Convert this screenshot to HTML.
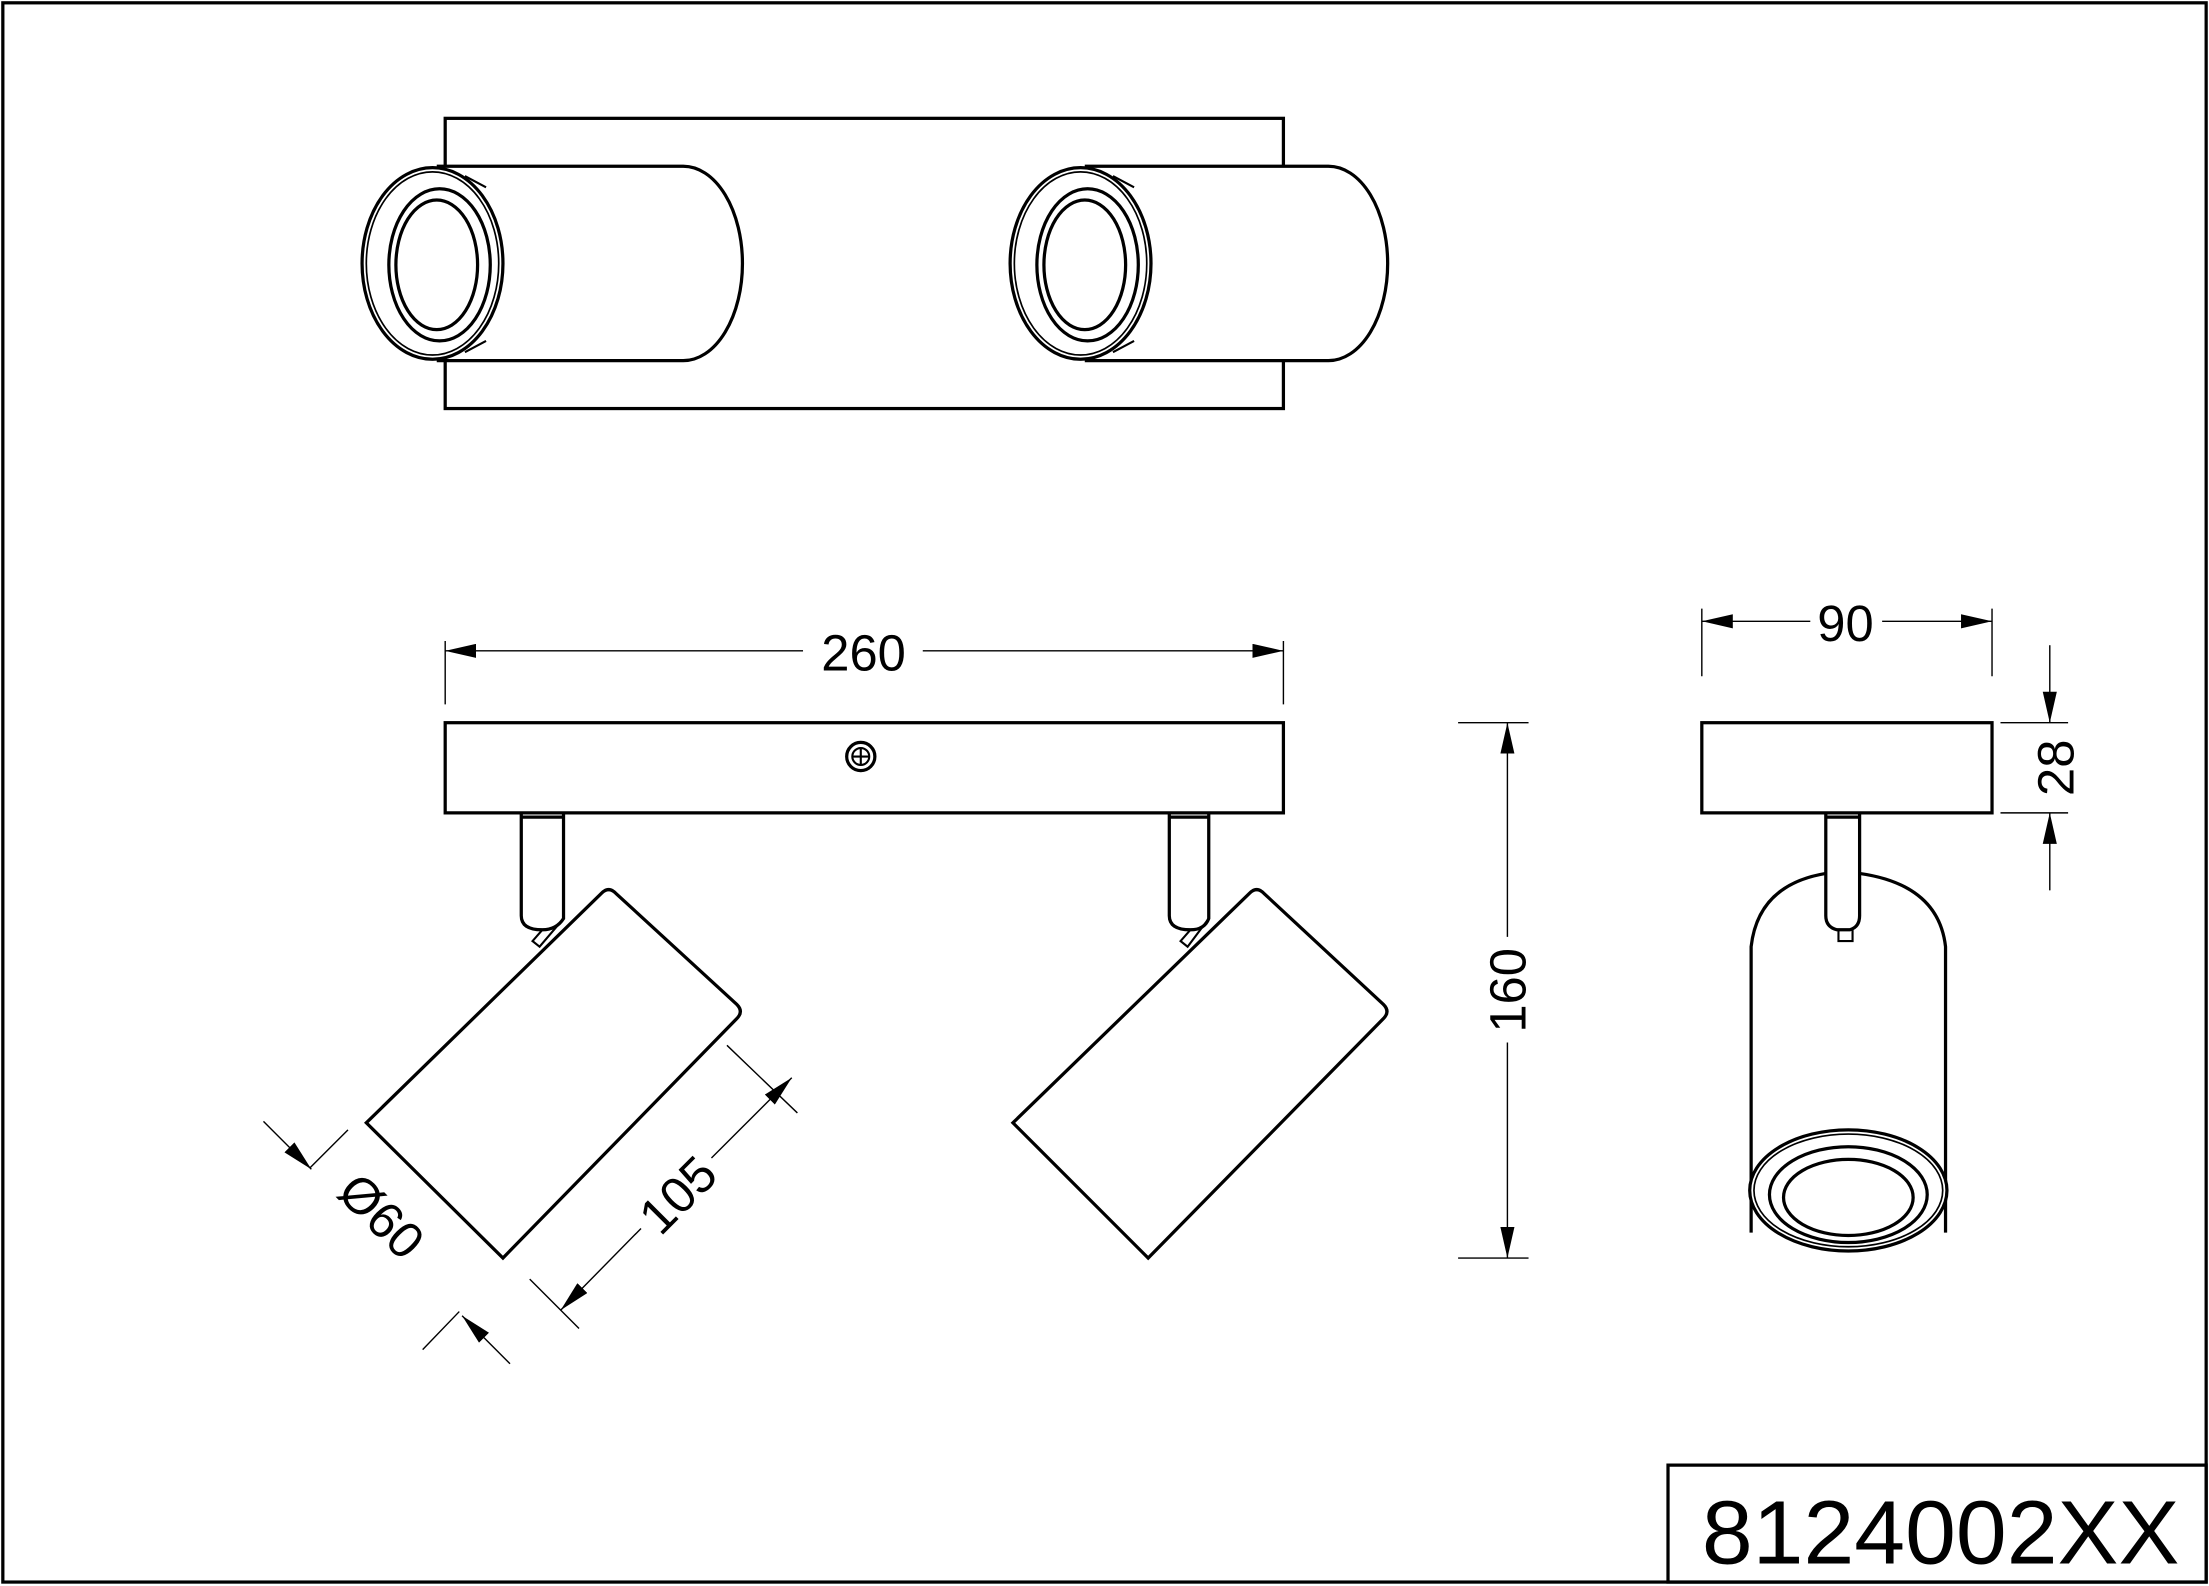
<!DOCTYPE html>
<html><head><meta charset="utf-8"><style>
html,body{margin:0;padding:0;background:#fff}
svg{display:block}
text{font-family:"Liberation Sans",Arial,sans-serif;fill:#000}
</style></head><body>
<svg width="2209" height="1586" viewBox="0 0 1568 1125.8" xmlns="http://www.w3.org/2000/svg">
<defs>
<marker id="a" viewBox="0 0 22 10" refX="22" refY="5" markerWidth="22" markerHeight="10" orient="auto" markerUnits="userSpaceOnUse">
<path d="M0,0 L22,5 L0,10 Z" fill="#000"/>
</marker>
</defs>
<g fill="none" stroke="#000" stroke-width="2.3">
<rect x="2" y="2" width="1564" height="1121"/>
<rect x="1184" y="1040" width="382" height="83"/>

<!-- top view -->
<rect x="316" y="84" width="595" height="206"/>
<path d="M310,118 H485 A42,69 0 0 1 485,256 H310" fill="#fff"/>
<ellipse cx="307" cy="187" rx="50" ry="68" fill="#fff"/>
<ellipse cx="307" cy="187" rx="47" ry="65" stroke-width="1.2"/>
<ellipse cx="312" cy="188" rx="36" ry="54"/>
<ellipse cx="310" cy="188" rx="29" ry="46"/>
<path d="M330,125 L345,133 M330,250 L345,242" stroke-width="1.5"/>

<path d="M770,118 H943 A42,69 0 0 1 943,256 H770" fill="#fff"/>
<ellipse cx="767" cy="187" rx="50" ry="68" fill="#fff"/>
<ellipse cx="767" cy="187" rx="47" ry="65" stroke-width="1.2"/>
<ellipse cx="772" cy="188" rx="36" ry="54"/>
<ellipse cx="770" cy="188" rx="29" ry="46"/>
<path d="M790,125 L805,133 M790,250 L805,242" stroke-width="1.5"/>

<!-- front view -->
<rect x="316" y="513" width="595" height="64"/>
<circle cx="611" cy="537" r="10"/>
<circle cx="611" cy="537" r="6" stroke-width="1.5"/>
<path d="M605,537 H617 M611,531 V543" stroke-width="1.5"/>

<path d="M370,577 V650 Q370,660 385,660 Q395,660 400,652 L400,577 M370,580 H400" />
<path d="M830,577 V650 Q830,660 845,660 Q855,660 858,652 L858,577 M830,580 H858" />

<path d="M260,797 L427,634 Q432,629 437,634 L523,713 Q528,718 523,723 L357,893 Z" fill="#fff"/>
<path d="M385,660 L378,668 L383,672 L400,652" stroke-width="1.5"/>
<path d="M719,797 L887,634 Q892,629 897,634 L982,713 Q987,718 982,723 L815,893 Z" fill="#fff"/>
<path d="M845,660 L838,668 L843,672 L858,652" stroke-width="1.5"/>

<!-- side view -->
<rect x="1208" y="513" width="206" height="64"/>
<path d="M1243,875 V672 Q1248,628 1296,620 M1320,620 Q1376,628 1381,672 V875"/>
<path d="M1296,577 V650 Q1296,658 1304,660 H1313 Q1320,658 1320,650 V577 M1296,580 H1320"/>
<rect x="1305" y="660" width="10" height="8" stroke-width="1.5"/>
<ellipse cx="1312" cy="845" rx="70" ry="43" fill="#fff"/>
<ellipse cx="1312" cy="845" rx="67" ry="40" stroke-width="1.2"/>
<ellipse cx="1312" cy="848" rx="56" ry="34"/>
<ellipse cx="1312" cy="850" rx="46" ry="27"/>
</g>

<!-- dimensions -->
<g fill="none" stroke="#000" stroke-width="1">
<path d="M316,455 V500 M911,455 V500"/>
<line x1="570" y1="462" x2="316" y2="462" marker-end="url(#a)"/>
<line x1="655" y1="462" x2="911" y2="462" marker-end="url(#a)"/>

<path d="M1035,513 H1085 M1035,893 H1085"/>
<line x1="1070" y1="665" x2="1070" y2="513" marker-end="url(#a)"/>
<line x1="1070" y1="740" x2="1070" y2="893" marker-end="url(#a)"/>

<path d="M1208,432 V480 M1414,432 V480"/>
<line x1="1285" y1="441" x2="1208" y2="441" marker-end="url(#a)"/>
<line x1="1336" y1="441" x2="1414" y2="441" marker-end="url(#a)"/>

<path d="M1420,513 H1468 M1420,577 H1468"/>
<line x1="1455" y1="458" x2="1455" y2="513" marker-end="url(#a)"/>
<line x1="1455" y1="632" x2="1455" y2="577" marker-end="url(#a)"/>

<path d="M516,742 L566,790 M376,908 L411,943"/>
<line x1="505" y1="822" x2="562" y2="765" marker-end="url(#a)"/>
<line x1="455" y1="872" x2="398" y2="930" marker-end="url(#a)"/>

<path d="M220,829 L247,802 M326,931 L300,958"/>
<line x1="187" y1="796" x2="221" y2="830" marker-end="url(#a)"/>
<line x1="362" y1="968" x2="328" y2="934" marker-end="url(#a)"/>
</g>

<g font-size="36">
<text x="613" y="476" text-anchor="middle">260</text>
<text x="1310" y="455" text-anchor="middle">90</text>
<text transform="translate(1083,703) rotate(-90)" text-anchor="middle">160</text>
<text transform="translate(1472,545) rotate(-90)" text-anchor="middle">28</text>
<text transform="translate(490,857) rotate(-45)" text-anchor="middle">105</text>
<text transform="translate(262,872) rotate(45)" text-anchor="middle">Ø60</text>
</g>
<text x="1208" y="1110" font-size="64" textLength="339" lengthAdjust="spacingAndGlyphs">8124002XX</text>
</svg>
</body></html>
